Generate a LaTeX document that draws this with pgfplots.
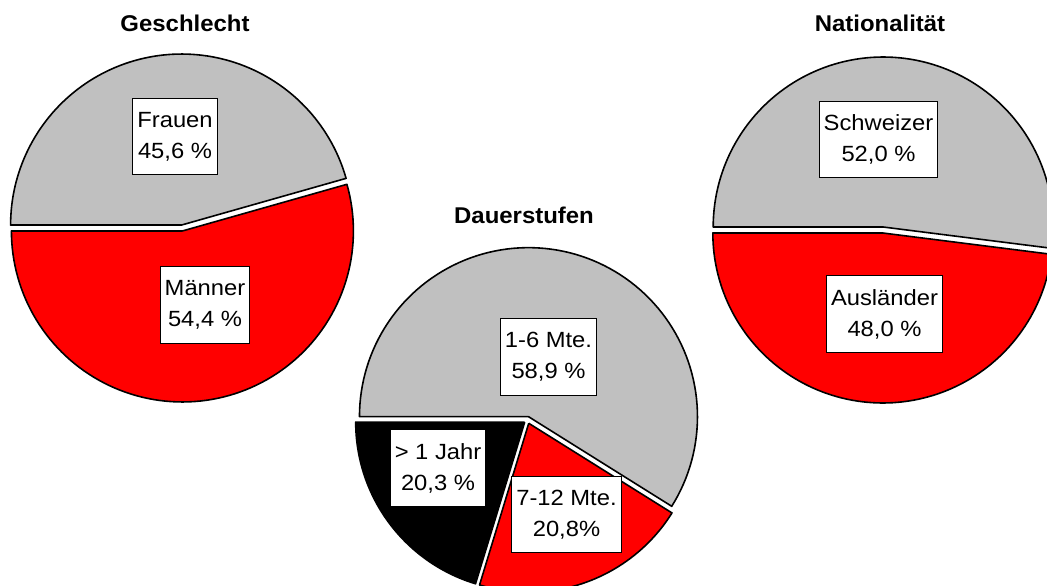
\documentclass[border=0pt]{standalone}
\usepackage{fontspec}
\setmainfont{Liberation Sans}
\newfontfamily\labfont[FakeStretch=1.08]{Liberation Sans}
\newfontfamily\titfont[FakeStretch=1.05]{Liberation Sans}
\usepackage{pgfplots}
\pgfplotsset{compat=1.18}
\definecolor{piegray}{RGB}{192,192,192}
\definecolor{piered}{RGB}{255,0,0}

% shares (percent)
\def\Frauen{45.6}\def\Maenner{54.4}
\def\Kurz{58.9}\def\Mittel{20.8}\def\Lang{20.3}
\def\Schweizer{52.0}\def\Auslaender{48.0}

% slice: cx, cy, r, start angle, end angle, explode, colour
\newcommand{\slice}[7]{%
  \pgfmathsetmacro\slcmid{(#4+#5)/2}%
  \pgfmathsetmacro\slcox{#1+#6*cos(\slcmid)}%
  \pgfmathsetmacro\slcoy{#2+#6*sin(\slcmid)}%
  \addplot[fill=#7, draw=black, line width=0.8pt, line join=round,
    samples at={-1,0,1,...,100,101}]
    ({\slcox + ((x<0||x>100)?0:#3)*cos(#4+(min(max(x,0),100)/100)*(#5-#4))},
     {\slcoy + ((x<0||x>100)?0:#3)*sin(#4+(min(max(x,0),100)/100)*(#5-#4))});
}

\tikzset{lab/.style={draw=black, line width=0.5pt, fill=white, align=center,
  font=\labfont\fontsize{11}{15.5}\selectfont, inner xsep=2.3pt, inner ysep=6.8pt},
  tit/.style={anchor=base, font=\titfont\bfseries\fontsize{11.4}{13}\selectfont}}

\begin{document}
\begin{tikzpicture}
\begin{axis}[width=523.5pt, height=292.5pt, scale only axis,
  xmin=0, xmax=1047, ymin=0, ymax=585, hide axis, clip=true]
% Geschlecht
\pgfmathsetmacro\aA{180-3.6*\Frauen}
\slice{182}{357}{171}{180}{\aA}{3}{piegray}
\slice{182}{357}{171}{\aA}{-180}{3}{piered}
% Dauerstufen
\pgfmathsetmacro\bA{180-3.6*\Kurz}
\pgfmathsetmacro\bB{\bA-3.6*\Mittel}
\slice{527.5}{165}{169}{180}{\bA}{3.5}{piegray}
\slice{527.5}{165}{169}{\bA}{\bB}{3.5}{piered}
\slice{527.5}{165}{169}{\bB}{-180}{3.5}{black}
% Nationalitaet
\pgfmathsetmacro\cA{180-3.6*\Schweizer}
\slice{883}{355}{170}{180}{\cA}{3}{piegray}
\slice{883}{355}{170}{\cA}{-180}{3}{piered}

\node[tit] at (axis cs:185,553.3) {Geschlecht};
\node[tit] at (axis cs:524,362) {Dauerstufen};
\node[tit] at (axis cs:880,553) {Nationalität};

\node[lab] at (axis cs:175,448.5) {Frauen\\45,6 \%};
\node[lab] at (axis cs:205,280) {Männer\\54,4 \%};
\node[lab] at (axis cs:548.5,228) {1-6 Mte.\\58,9 \%};
\node[lab] at (axis cs:438,117) {> 1 Jahr\\20,3 \%};
\node[lab] at (axis cs:566.5,70.5) {7-12 Mte.\\20,8\%};
\node[lab] at (axis cs:878.5,445.5) {Schweizer\\52,0 \%};
\node[lab] at (axis cs:884.5,271) {Ausländer\\48,0 \%};
\end{axis}
\pgfresetboundingbox
\useasboundingbox (current axis.south west) rectangle (current axis.north east);
\end{tikzpicture}
\end{document}
